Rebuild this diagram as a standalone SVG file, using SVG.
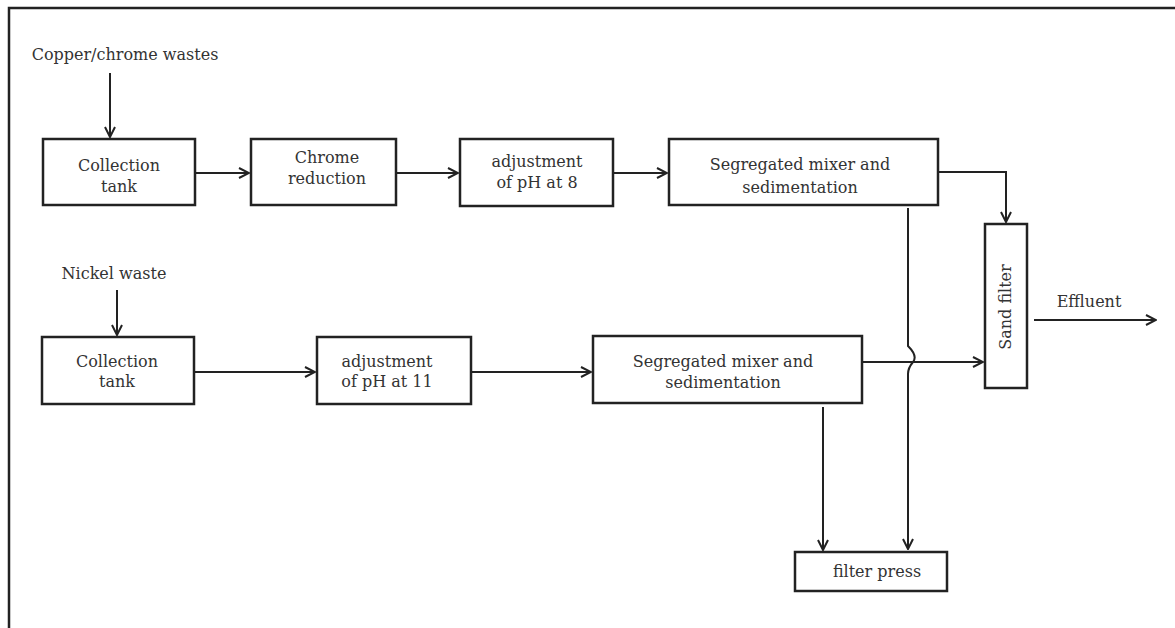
<svg xmlns="http://www.w3.org/2000/svg" width="1175" height="628" viewBox="0 0 1175 628">
<style>
.box{fill:#fff;stroke:#222;stroke-width:2.5}
.ln{fill:none;stroke:#222;stroke-width:2}
.t{font-family:"DejaVu Serif","Liberation Serif",serif;font-size:16px;fill:#333;text-anchor:middle}
</style>
<defs>
<marker id="ah" viewBox="0 0 12 12" refX="11" refY="6" markerWidth="12" markerHeight="12" markerUnits="userSpaceOnUse" orient="auto">
<path d="M1,1 L11,6 L1,11" fill="none" stroke="#222" stroke-width="2"/>
</marker>
</defs>
<rect width="1175" height="628" fill="#fff"/>
<path d="M9,628 L9,8 L1175,8" fill="none" stroke="#222" stroke-width="2.5"/>
<g id="connectors">
<path class="ln" d="M110,73 L110,137" marker-end="url(#ah)"/>
<path class="ln" d="M195,173 L249,173" marker-end="url(#ah)"/>
<path class="ln" d="M396,173 L458,173" marker-end="url(#ah)"/>
<path class="ln" d="M613,173 L667,173" marker-end="url(#ah)"/>
<path class="ln" d="M938,172 L1006,172 L1006,222" marker-end="url(#ah)"/>
<path class="ln" d="M908,208 L908,346 Q918,356 913,362 Q908,368 908,374 L908,549" marker-end="url(#ah)"/>
<path class="ln" d="M117,290 L117,335" marker-end="url(#ah)"/>
<path class="ln" d="M194,372 L315,372" marker-end="url(#ah)"/>
<path class="ln" d="M471,372 L591,372" marker-end="url(#ah)"/>
<path class="ln" d="M862,362 L983,362" marker-end="url(#ah)"/>
<path class="ln" d="M823,407 L823,550" marker-end="url(#ah)"/>
<path class="ln" d="M1034,320 L1156,320" marker-end="url(#ah)"/>
</g>
<text class="t" x="125" y="60">Copper/chrome wastes</text>
<text class="t" x="114" y="279">Nickel waste</text>
<text class="t" x="1089" y="307">Effluent</text>
<g id="collection1"><rect class="box" x="43" y="139" width="152" height="66"/><text class="t" x="119" y="171">Collection</text><text class="t" x="119" y="192">tank</text></g>
<g id="chrome"><rect class="box" x="251" y="139" width="145" height="66"/><text class="t" x="327" y="163">Chrome</text><text class="t" x="327" y="184">reduction</text></g>
<g id="ph8"><rect class="box" x="460" y="139" width="153" height="67"/><text class="t" x="537" y="167">adjustment</text><text class="t" x="537" y="188">of pH at 8</text></g>
<g id="seg1"><rect class="box" x="669" y="139" width="269" height="66"/><text class="t" x="800" y="170">Segregated mixer and</text><text class="t" x="800" y="193">sedimentation</text></g>
<g id="sand"><rect class="box" x="985" y="224" width="42" height="164"/><text class="t" transform="translate(1011,307) rotate(-90)" x="0" y="0">Sand filter</text></g>
<g id="collection2"><rect class="box" x="42" y="337" width="152" height="67"/><text class="t" x="117" y="367">Collection</text><text class="t" x="117" y="387">tank</text></g>
<g id="ph11"><rect class="box" x="317" y="337" width="154" height="67"/><text class="t" x="387" y="367">adjustment</text><text class="t" x="387" y="387">of pH at 11</text></g>
<g id="seg2"><rect class="box" x="593" y="336" width="269" height="67"/><text class="t" x="723" y="367">Segregated mixer and</text><text class="t" x="723" y="388">sedimentation</text></g>
<g id="filterpress"><rect class="box" x="795" y="552" width="152" height="39"/><text class="t" x="877" y="577">filter press</text></g>
</svg>
